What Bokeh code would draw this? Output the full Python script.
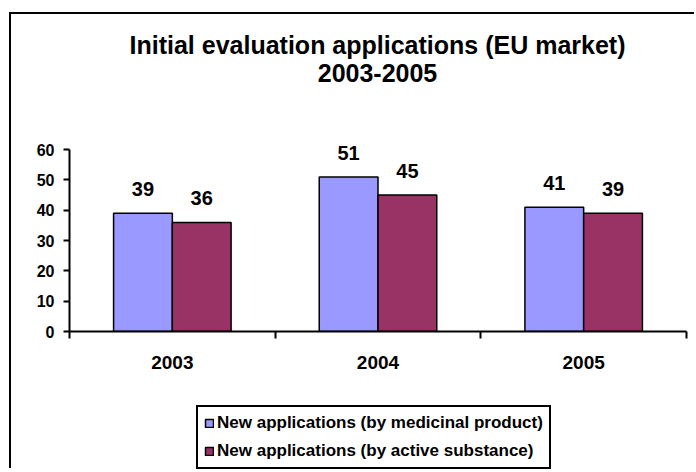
from bokeh.plotting import figure
from bokeh.layouts import column
from bokeh.models import (ColumnDataSource, FixedTicker, LinearAxis, Range1d, Label,
                          Legend, LegendItem)
from bokeh.embed import file_html
from bokeh.resources import INLINE
from bokeh.core.properties import value

# ---- data ----
years = ["2003", "2004", "2005"]
by_product = [39, 51, 41]
by_substance = [36, 45, 39]
series_names = ["New applications (by medicinal product)",
                "New applications (by active substance)"]
y_ticks = [0, 10, 20, 30, 40, 50, 60]
title_lines = ["Initial evaluation applications (EU market)", "2003-2005"]

FONT = "Liberation Sans"
BLUE = "#9999FF"
PLUM = "#993366"
W = 685
LEFT, RIGHT = 58, 10          # borders shared by all three stacked figures
FRAME_W = W - LEFT - RIGHT


def strip(height):
    f = figure(width=W, height=height, output_backend="svg", toolbar_location=None,
               title=None, x_axis_type=None, y_axis_type=None,
               x_range=Range1d(0, FRAME_W), y_range=Range1d(0, height),
               min_border_left=LEFT, min_border_right=RIGHT,
               min_border_top=0, min_border_bottom=0)
    f.outline_line_color = None
    f.xgrid.visible = False
    f.ygrid.visible = False
    return f


# ---- title strip ----
t = strip(121)
for txt, yy in zip(title_lines, [91, 63]):
    t.add_layout(Label(x=308, y=yy, text=txt, text_align="center",
                       text_baseline="middle", text_font=FONT, text_font_style="bold",
                       text_font_size="25px", text_color="black"))

# ---- chart ----
idx = list(range(len(years)))
bar_w = 1 / 3.5
src1 = ColumnDataSource(dict(x=[i + 0.5 - bar_w / 2 for i in idx], top=by_product,
                             lab=[str(v) for v in by_product]))
src2 = ColumnDataSource(dict(x=[i + 0.5 + bar_w / 2 for i in idx], top=by_substance,
                             lab=[str(v) for v in by_substance]))

# y range runs a little past the last tick so the value labels are not clipped;
# the axis line itself is bounded to 0..60
p = figure(width=W, height=260, output_backend="svg", toolbar_location=None,
           title=None, x_axis_type=None, y_axis_type=None,
           x_range=Range1d(0, len(years)), y_range=Range1d(0, 64),
           min_border_left=LEFT, min_border_right=RIGHT, min_border_top=2,
           min_border_bottom=64)
p.outline_line_color = None
p.xgrid.visible = False
p.ygrid.visible = False

p.vbar(x="x", top="top", width=bar_w, source=src1, fill_color=BLUE,
       line_color="black", line_width=1.5)
p.vbar(x="x", top="top", width=bar_w, source=src2, fill_color=PLUM,
       line_color="black", line_width=1.5)

for s in (src1, src2):
    p.text(x="x", y="top", text="lab", source=s, text_align="center",
           text_baseline="alphabetic", y_offset=-24,
           text_font=value(FONT), text_font_style="bold", text_font_size="20px",
           text_color="black")

yax = LinearAxis(ticker=FixedTicker(ticks=y_ticks, minor_ticks=[]),
                 bounds=(y_ticks[0], y_ticks[-1]))
yax.axis_line_width = 2
yax.major_tick_line_width = 2
yax.major_tick_in = 0
yax.major_tick_out = 6
yax.minor_tick_line_color = None
yax.major_label_standoff = 9
yax.major_label_text_font = FONT
yax.major_label_text_font_style = "bold"
yax.major_label_text_font_size = "16px"
yax.major_label_text_color = "black"
p.add_layout(yax, "left")

xax = LinearAxis(ticker=FixedTicker(ticks=[i + 0.5 for i in idx],
                                    minor_ticks=list(range(len(years) + 1))))
xax.major_label_overrides = {i + 0.5: y for i, y in zip(idx, years)}
xax.axis_line_width = 2
xax.major_tick_line_color = None
xax.major_tick_in = 0
xax.major_tick_out = 0
xax.minor_tick_line_width = 2
xax.minor_tick_in = 0
xax.minor_tick_out = 7
xax.major_label_standoff = 17
xax.major_label_text_font = FONT
xax.major_label_text_font_style = "bold"
xax.major_label_text_font_size = "19px"
xax.major_label_text_color = "black"
p.add_layout(xax, "below")

# ---- legend strip (hidden copies of the series supply the legend swatches) ----
q = strip(75)
q1 = q.vbar(x="x", top="top", width=bar_w, source=src1, fill_color=BLUE,
            line_color="black", line_width=1.5, visible=False)
q2 = q.vbar(x="x", top="top", width=bar_w, source=src2, fill_color=PLUM,
            line_color="black", line_width=1.5, visible=False)
legend = Legend(items=[LegendItem(label=series_names[0], renderers=[q1]),
                       LegendItem(label=series_names[1], renderers=[q2])],
                location=(127, 1), orientation="vertical",
                label_text_font=FONT, label_text_font_style="bold",
                label_text_font_size="17px", label_text_color="black",
                glyph_width=10, glyph_height=10, label_height=20,
                label_standoff=3, spacing=8, padding=6, margin=0,
                inactive_fill_alpha=0,
                border_line_color="black", border_line_alpha=1, border_line_width=2,
                background_fill_color="white", background_fill_alpha=1)
q.add_layout(legend, "center")

layout = column(t, p, q, spacing=0, margin=(14, 0, 0, 11),
                styles={"box-shadow": "-2px -2px 0px 0px black"})

open("out.html", "w").write(file_html(layout, INLINE))
